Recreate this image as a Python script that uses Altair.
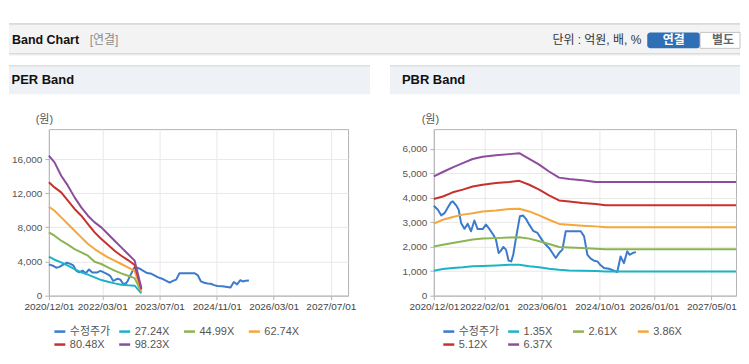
import altair as alt
import pandas as pd

FONT = "Liberation Sans, Noto Sans CJK KR, sans-serif"

# ---------------- data ----------------
price_dates = ["2020-12-01","2021-01-04","2021-02-01","2021-03-01","2021-03-29","2021-04-26","2021-05-10",
               "2021-06-07","2021-06-29","2021-07-19","2021-08-16","2021-09-13","2021-10-11","2021-11-08",
               "2021-12-06","2022-01-17","2022-02-14","2022-03-14","2022-04-17","2022-05-09","2022-06-01",
               "2022-06-20","2022-07-10","2022-08-02","2022-08-24","2022-09-15","2022-10-02","2022-10-25",
               "2022-11-27","2022-12-25","2023-01-17","2023-02-14","2023-03-19","2023-04-25","2023-05-23",
               "2023-06-20","2023-07-31","2023-08-29","2023-09-26","2023-10-24","2023-11-21","2023-12-19",
               "2024-01-30","2024-03-12","2024-04-24","2024-05-22","2024-06-19","2024-07-17","2024-08-14",
               "2024-09-11","2024-10-09","2024-11-06","2024-12-18","2025-01-29","2025-02-26","2025-03-26",
               "2025-04-23","2025-05-21","2025-06-10","2025-07-05","2025-08-02"]
price = [3670,3510,3280,3370,3600,3820,3850,3690,3510,2970,2730,2930,2630,3070,2720,2720,2900,2730,2490,2290,
         1740,1840,1990,1880,1430,1400,1670,2350,3240,3270,3140,2900,2650,2560,2350,2150,1950,1740,1540,1740,
         1880,2630,2630,2630,2630,2420,1670,1510,1430,1400,1240,1130,1100,1020,966,1600,1330,1810,1670,1740,1780]

per_dates = ["2020-12-01","2021-01-18","2021-03-16","2021-05-12","2021-07-08","2021-09-03","2021-10-30",
             "2021-12-26","2022-02-21","2022-04-18","2022-06-14","2022-08-10","2022-10-06","2022-12-02","2023-01-28"]
per_names = ["수정주가", "27.24X", "44.99X", "62.74X", "80.48X", "98.23X"]
per_27 = [4570, 4210, 3900, 3510, 3120, 2730, 2460, 2150, 1830, 1640, 1440, 1290, 1220, 1170, 270]
per_45 = [7410, 7020, 6440, 5970, 5460, 5070, 4680, 3980, 3710, 3320, 2930, 2610, 2340, 2050, 450]
per_63 = [10420, 9950, 9170, 8390, 7610, 6830, 6050, 5460, 4960, 4490, 4100, 3710, 3320, 2900, 600]
per_80 = [13270, 12680, 12100, 11120, 10150, 9365, 8390, 7410, 6630, 5970, 5270, 4680, 4170, 3600, 750]
per_98 = [16390, 15610, 14050, 12880, 11510, 10340, 9365, 8585, 8000, 7220, 6440, 5660, 4880, 4100, 900]

pbr_dates = ["2020-12-01","2021-02-15","2021-05-10","2021-08-02","2021-10-25","2022-01-17","2022-05-09",
             "2022-08-30","2022-11-22","2023-02-14","2023-05-09","2023-07-31","2023-10-24","2024-01-16",
             "2024-05-08","2024-08-28","2024-11-20","2027-11-25"]
pbr_names = ["수정주가", "1.35X", "2.61X", "3.86X", "5.12X", "6.37X"]
pbr_135 = [1020,1090,1130,1160,1200,1215,1235,1265,1265,1200,1160,1100,1060,1030,1020,1010,990,990]
pbr_261 = [2010,2080,2150,2220,2290,2330,2350,2380,2390,2330,2220,2110,1990,1970,1950,1920,1900,1900]
pbr_386 = [2940,3100,3210,3310,3370,3440,3480,3540,3550,3440,3280,3100,2930,2900,2860,2830,2790,2790]
pbr_512 = [3950,4050,4220,4330,4460,4530,4600,4640,4690,4530,4330,4100,3890,3850,3780,3740,3690,3690]
pbr_637 = [4870,5050,5240,5410,5580,5670,5730,5780,5820,5590,5350,5070,4820,4760,4710,4640,4640,4640]

series_colors = ["#3b7bcd", "#1db3c7", "#8db453", "#f4a73b", "#c7312d", "#8c4d9d"]

per_ticks = ["2020-12-01","2022-03-01","2023-07-01","2024-11-01","2026-03-01","2027-07-01"]
pbr_ticks = ["2020-12-01","2022-02-01","2023-06-01","2024-10-01","2026-01-01","2027-05-01"]
per_yticks = [0, 4000, 8000, 12000, 16000]
pbr_yticks = [0, 1000, 2000, 3000, 4000, 5000, 6000]
x_domain = ["2020-12-01", "2027-11-25"]


def dt(s):
    y, m, d = (int(v) for v in s.split("-"))
    return alt.DateTime(year=y, month=m, date=d)


def build_df(names, band_dates, bands):
    rows = [{"date": d, "value": v, "series": names[0]} for d, v in zip(price_dates, price)]
    for name, vals in zip(names[1:], bands):
        rows += [{"date": d, "value": v, "series": name} for d, v in zip(band_dates, vals)]
    df = pd.DataFrame(rows)
    df["date"] = pd.to_datetime(df["date"])
    return df


per_df = build_df(per_names, per_dates, [per_27, per_45, per_63, per_80, per_98])
pbr_df = build_df(pbr_names, pbr_dates, [pbr_135, pbr_261, pbr_386, pbr_512, pbr_637])

ONE = alt.Data(values=[{}])


def rect(x, x2, y, y2, fill, **kw):
    return alt.Chart(ONE).mark_rect(fill=fill, **kw).encode(
        x=alt.value(x), x2=alt.value(x2), y=alt.value(y), y2=alt.value(y2))


def hline(x, x2, y, color):
    return alt.Chart(ONE).mark_rule(stroke=color, strokeWidth=1).encode(
        x=alt.value(x), x2=alt.value(x2), y=alt.value(y))


def label(t, x, y, **kw):
    base = dict(font=FONT, baseline="middle", align="left", fontSize=12, color="#333")
    base.update(kw)
    return alt.Chart(ONE).mark_text(text=t, **base).encode(x=alt.value(x), y=alt.value(y))


def band_chart(df, names, ticks, yticks, ymax, width, legend_x, title_x):
    return alt.Chart(df).mark_line(strokeWidth=2, strokeJoin="round").encode(
        x=alt.X("date:T",
                scale=alt.Scale(domain=[dt(x_domain[0]), dt(x_domain[1])]),
                axis=alt.Axis(values=[dt(t) for t in ticks], format="%Y/%m/%d", title=None,
                              labelOverlap=False, labelFlush=False, labelFontSize=10,
                              labelColor="#444", labelFont=FONT, tickSize=4, labelPadding=2)),
        y=alt.Y("value:Q",
                scale=alt.Scale(domain=[0, ymax], nice=False, zero=True),
                axis=alt.Axis(values=yticks, format=",d", title="(원)", titleAngle=0,
                              titleX=title_x, titleY=-10, titleAlign="center",
                              titleBaseline="middle", titleFontWeight="normal",
                              titleFontSize=11, titleColor="#555", titleFont=FONT,
                              labelFontSize=10, labelColor="#555", labelFont=FONT,
                              labelFlush=False, tickSize=4, labelPadding=3)),
        color=alt.Color("series:N",
                        scale=alt.Scale(domain=names, range=series_colors),
                        sort=names,
                        legend=alt.Legend(orient="none", legendX=legend_x, legendY=196,
                                          direction="horizontal",
                                          columns=4, title=None, symbolType="stroke",
                                          symbolSize=121, symbolStrokeWidth=2.5,
                                          labelFontSize=11, labelColor="#555", labelFont=FONT,
                                          labelOffset=3, columnPadding=3, rowPadding=1,
                                          gridAlign="all", padding=0)),
    ).properties(width=width, height=167)


# ---------------- left panel (PER) ----------------
RIGHT_EDGE = 693   # relative to the left plot origin
left_deco = [
    rect(-40, RIGHT_EDGE, -120, -106, "#ffffff"),
    rect(-40, RIGHT_EDGE, -106, -75, "#f3f3f3"),
    hline(-40, RIGHT_EDGE, -105.5, "#c4c4c4"),
    hline(-40, RIGHT_EDGE, -75.5, "#cfcfcf"),
    hline(-40, RIGHT_EDGE, -74.5, "#e8e8e8"),
    label("Band Chart", -37, -89.5, fontWeight="bold", fontSize=12.5, color="#111"),
    label("[연결]", 41, -89.5, color="#8c8c8c"),
    label("단위 : 억원, 배, %", 594, -89.5, align="right", color="#333"),
    rect(600, 653, -97, -81, "#2f6fb5", cornerRadius=3),
    label("연결", 626.5, -89, align="center", color="#ffffff", fontWeight="bold"),
    rect(653, RIGHT_EDGE, -97, -81, "#ffffff", stroke="#c4c4c4", strokeWidth=1),
    label("별도", 676, -89, align="center", color="#666", fontWeight="bold"),
    rect(-40, 322, -64, -35, "#eef2f7"),
    hline(-40, 322, -63.5, "#d4d4d4"),
    label("PER Band", -37.5, -49.5, fontWeight="bold", fontSize=13, color="#111"),
]
left = alt.layer(*left_deco,
                 band_chart(per_df, per_names, per_ticks, per_yticks, 19500, 300, 4, -5))

# ---------------- right panel (PBR) ----------------
right_deco = [
    rect(-44, RIGHT_EDGE - 386, -64, -35, "#eef2f7"),
    hline(-44, RIGHT_EDGE - 386, -63.5, "#d4d4d4"),
    label("PBR Band", -32, -49.5, fontWeight="bold", fontSize=13, color="#111"),
]
right = alt.layer(*right_deco,
                  band_chart(pbr_df, pbr_names, pbr_ticks, pbr_yticks, 6800, 303, 8, -4))

chart = alt.hconcat(left, right, spacing=86, bounds="flush").resolve_scale(
    x="independent", y="independent", color="independent"
).properties(padding=0).configure_view(
    stroke="#b4b4b4", strokeWidth=1
).configure_axis(
    gridColor="#e8e8e8", domainColor="#b4b4b4", tickColor="#b4b4b4"
)

chart.save("out.html", embed_options={"renderer": "svg", "actions": False})
